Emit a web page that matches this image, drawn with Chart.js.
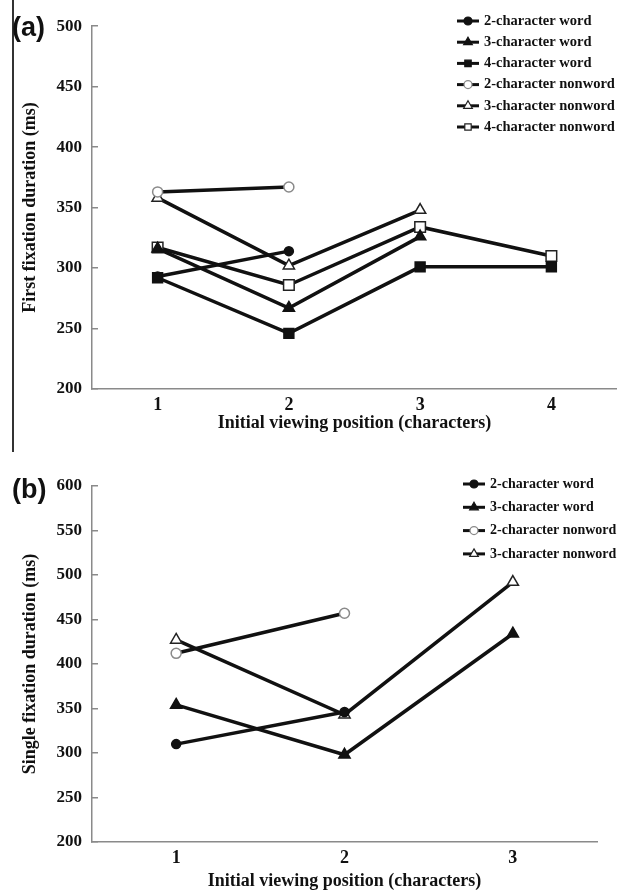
<!DOCTYPE html>
<html>
<head>
<meta charset="utf-8">
<script src="https://cdn.jsdelivr.net/npm/chart.js@4"></script>
<style>
  html, body { margin: 0; padding: 0; background: #fff; }
  #wrap { position: relative; width: 617px; height: 893px; overflow: hidden; }
  canvas { position: absolute; left: 0; }
  #chartA { top: 0; }
  #chartB { top: 450px; }
  .panel { position: absolute; font: bold 27px "Liberation Sans", Arial, sans-serif; color: #111; line-height: 30px; }
  #edge { position: absolute; left: 12px; top: 0; width: 2px; height: 452px; background: #333; }
</style>
</head>
<body>
<div id="wrap">
  <div id="edge"></div>
  <canvas id="chartA" width="617" height="450"></canvas>
  <canvas id="chartB" width="617" height="443"></canvas>
  <div class="panel" style="left:12px; top:12px;">(a)</div>
  <div class="panel" style="left:12px; top:474px;">(b)</div>
</div>
<script>
// panel (a): first fixation duration
const positionsA = ['1', '2', '3', '4'];
const word2A = [293, 314];
const word3A = [316, 267, 326];
const word4A = [292, 246, 301, 301];
const nonword2A = [363, 367];
const nonword3A = [358, 302, 348];
const nonword4A = [317, 286, 334, 310];

// panel (b): single fixation duration
const positionsB = ['1', '2', '3'];
const word2B = [310, 346];
const word3B = [354, 298, 434];
const nonword2B = [412, 457];
const nonword3B = [427, 343, 492];

const yRangeA = [200, 500];
const yRangeB = [200, 600];
const yStep = 50;

const serif = '"Liberation Serif", "Times New Roman", serif';
const ink = '#111';
const axisGray = '#8a8a8a';

function series(label, data, style, filled, r) {
  return {
    label: label,
    data: data,
    pointStyle: style,
    pointRadius: r,
    pointHoverRadius: r,
    pointBackgroundColor: filled ? ink : '#fff',
    pointBorderColor: filled ? ink : (style === 'circle' ? '#8a8a8a' : '#222'),
    pointBorderWidth: 1.5,
    borderColor: ink,
    borderWidth: 3.5,
    tension: 0,
    fill: false
  };
}

function drawMarker(ctx, style, x, y, fill, stroke, r) {
  ctx.beginPath();
  if (style === 'circle') {
    ctx.arc(x, y, r, 0, Math.PI * 2);
  } else if (style === 'triangle') {
    ctx.moveTo(x, y - r);
    ctx.lineTo(x + r * 0.866, y + r * 0.5);
    ctx.lineTo(x - r * 0.866, y + r * 0.5);
    ctx.closePath();
  } else {
    const s = r * 0.8;
    ctx.rect(x - s, y - s, 2 * s, 2 * s);
  }
  ctx.fillStyle = fill;
  ctx.fill();
  ctx.lineWidth = 1.2;
  ctx.strokeStyle = stroke;
  ctx.stroke();
}

// legend: short line with the marker on it, then the label
const lineLegend = {
  id: 'lineLegend',
  afterDraw(chart, args, opts) {
    const ctx = chart.ctx;
    ctx.save();
    chart.data.datasets.forEach((ds, i) => {
      const y = opts.top + i * opts.step;
      ctx.strokeStyle = ink;
      ctx.lineWidth = 3;
      ctx.beginPath();
      ctx.moveTo(opts.left, y);
      ctx.lineTo(opts.left + 22, y);
      ctx.stroke();
      const r = ds.pointStyle === 'triangle' ? 5 : 4;
      drawMarker(ctx, ds.pointStyle, opts.left + 11, y, ds.pointBackgroundColor, ds.pointBorderColor, r);
      ctx.fillStyle = ink;
      ctx.font = 'bold ' + opts.size + 'px ' + serif;
      ctx.textBaseline = 'middle';
      ctx.textAlign = 'left';
      ctx.fillText(ds.label, opts.left + 27, y);
    });
    ctx.restore();
  }
};

function makeChart(id, labels, datasets, yRange, yTitle, pad, xHeight, legendOpts) {
  return new Chart(document.getElementById(id), {
    type: 'line',
    data: { labels: labels, datasets: datasets },
    options: {
      responsive: false,
      animation: false,
      devicePixelRatio: 1,
      layout: { padding: pad, autoPadding: false },
      plugins: {
        legend: { display: false },
        tooltip: { enabled: false },
        lineLegend: legendOpts
      },
      scales: {
        x: {
          type: 'category',
          offset: true,
          grid: { display: false },
          border: { display: true, color: axisGray, width: 1.5 },
          ticks: { color: ink, padding: -2, font: { family: serif, size: 18, weight: 'bold' } },
          title: {
            display: true,
            text: 'Initial viewing position (characters)',
            color: ink,
            padding: { top: 0, bottom: 0 },
            font: { family: serif, size: 18, weight: 'bold' }
          },
          afterFit(scale) { scale.height = xHeight; }
        },
        y: {
          min: yRange[0],
          max: yRange[1],
          grid: { display: true, drawOnChartArea: false, drawTicks: true, tickLength: -6, color: axisGray, lineWidth: 1.5 },
          border: { display: true, color: axisGray, width: 1.5 },
          ticks: { stepSize: yStep, color: ink, padding: 16, font: { family: serif, size: 17, weight: 'bold' } },
          title: {
            display: true,
            text: yTitle,
            color: ink,
            padding: { top: 20, bottom: 0 },
            font: { family: serif, size: 18, weight: 'bold' }
          },
          afterFit(scale) { scale.width = 92; }
        }
      }
    },
    plugins: [lineLegend]
  });
}

makeChart('chartA', positionsA, [
  series('2-character word', word2A, 'circle', true, 4.5),
  series('3-character word', word3A, 'triangle', true, 6.5),
  series('4-character word', word4A, 'rect', true, 7),
  series('2-character nonword', nonword2A, 'circle', false, 5),
  series('3-character nonword', nonword3A, 'triangle', false, 6.5),
  series('4-character nonword', nonword4A, 'rect', false, 7.5)
], yRangeA, 'First fixation duration (ms)',
  { top: 24, right: 0, bottom: 16, left: 0 }, 45,
  { left: 457, top: 21, step: 21.2, size: 14.5 });

makeChart('chartB', positionsB, [
  series('2-character word', word2B, 'circle', true, 4.5),
  series('3-character word', word3B, 'triangle', true, 6.5),
  series('2-character nonword', nonword2B, 'circle', false, 5),
  series('3-character nonword', nonword3B, 'triangle', false, 6.5)
], yRangeB, 'Single fixation duration (ms)',
  { top: 36, right: 20, bottom: 1, left: 0 }, 50,
  { left: 463, top: 34, step: 23.3, size: 14 });
</script>
</body>
</html>
